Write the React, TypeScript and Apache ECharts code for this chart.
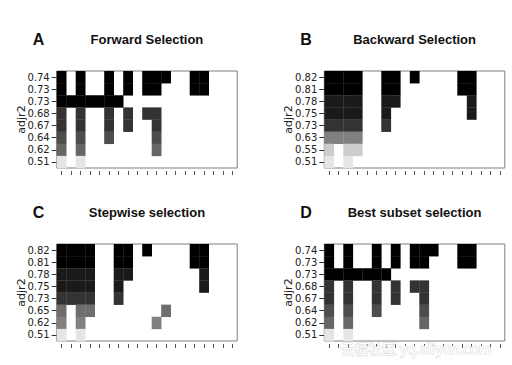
import React, { useEffect, useRef } from "react";
import * as echarts from "echarts";

// 19 model terms (intercept + 18 predictors); names are not shown in the plot
const xCategories = [
  "(Intercept)", "x1", "x2", "x3", "x4", "x5", "x6", "x7", "x8", "x9",
  "x10", "x11", "x12", "x13", "x14", "x15", "x16", "x17", "x18",
];

// Forward selection
const forwardLabels = ["0.74", "0.73", "0.73", "0.68", "0.67", "0.64", "0.62", "0.51"];
const forwardRows = [
  "1010010101110011000",
  "1010010101100011000",
  "1111111000000000000",
  "1010010101100000000",
  "1010010100100000000",
  "1010010000100000000",
  "1010000000100000000",
  "1010000000000000000",
];
const forwardShades = ["#000000", "#000000", "#000000", "#333333", "#333333", "#4d4d4d", "#666666", "#e5e5e5"];

// Backward selection
const backwardLabels = ["0.82", "0.81", "0.78", "0.75", "0.73", "0.63", "0.55", "0.51"];
const backwardRows = [
  "1111001101000011000",
  "1111001100000011000",
  "1111001100000001000",
  "1111001000000001000",
  "1111001000000000000",
  "1111000000000000000",
  "1011000000000000000",
  "1010000000000000000",
];
const backwardShades = ["#000000", "#000000", "#1a1a1a", "#1a1a1a", "#333333", "#808080", "#cccccc", "#e5e5e5"];

// Stepwise selection
const stepwiseLabels = ["0.82", "0.81", "0.78", "0.75", "0.73", "0.65", "0.62", "0.51"];
const stepwiseRows = [
  "1111001101000011000",
  "1111001100000011000",
  "1111001100000001000",
  "1111001000000001000",
  "1111001000000000000",
  "1011000000010000000",
  "1010000000100000000",
  "1010000000000000000",
];
const stepwiseShades = ["#000000", "#000000", "#1a1a1a", "#1a1a1a", "#333333", "#6e6e6e", "#808080", "#e5e5e5"];

// Best subset selection
const bestLabels = ["0.74", "0.73", "0.73", "0.68", "0.67", "0.64", "0.62", "0.51"];
const bestRows = [
  "1010010101110011000",
  "1010010101100011000",
  "1111111000000000000",
  "1010010101100000000",
  "1010010100100000000",
  "1010010000100000000",
  "1010000000100000000",
  "1010000000000000000",
];
const bestShades = ["#000000", "#000000", "#000000", "#333333", "#333333", "#4d4d4d", "#666666", "#e5e5e5"];

const panelLetters = ["A", "B", "C", "D"];
const panelTitles = ["Forward Selection", "Backward Selection", "Stepwise selection", "Best subset selection"];

const GRID_W = 180.5;
const GRID_H = 97;
const panels = [
  { labels: forwardLabels, rows: forwardRows, shades: forwardShades, left: 56.7, top: 71 },
  { labels: backwardLabels, rows: backwardRows, shades: backwardShades, left: 324.3, top: 71 },
  { labels: stepwiseLabels, rows: stepwiseRows, shades: stepwiseShades, left: 56.7, top: 244 },
  { labels: bestLabels, rows: bestRows, shades: bestShades, left: 324.3, top: 244 },
];

export default function App() {
  const ref = useRef<HTMLDivElement>(null);

  useEffect(() => {
    if (!ref.current) return;
    const chart = echarts.init(ref.current, undefined, { renderer: "svg" });

    const titleFont = 'bold 13px "Liberation Sans", Arial, sans-serif';
    const letterFont = 'bold 16px "Liberation Sans", Arial, sans-serif';

    const graphics: any[] = [];
    panels.forEach((p, i) => {
      const cx = p.left + GRID_W / 2;
      const ty = p.top - 32;
      graphics.push({
        type: "text",
        x: cx,
        y: ty,
        style: {
          text: panelTitles[i],
          font: titleFont,
          fill: "#111111",
          textAlign: "center",
          textVerticalAlign: "middle",
        },
      });
      graphics.push({
        type: "text",
        x: p.left - 24,
        y: ty,
        style: {
          text: panelLetters[i],
          font: letterFont,
          fill: "#111111",
          textAlign: "left",
          textVerticalAlign: "middle",
        },
      });
    });
    graphics.push({
      type: "text",
      x: 416,
      y: 348,
      z: 100,
      style: {
        text: "云栖社区 yq.aliyun.com",
        font: '14px "Noto Sans CJK SC", "Liberation Sans", sans-serif',
        fill: "#ffffff",
        stroke: "#d9d9d9",
        lineWidth: 1,
        textAlign: "center",
        textVerticalAlign: "middle",
      },
    });

    const option: any = {
      animation: false,
      backgroundColor: "#ffffff",
      grid: panels.map((p) => ({
        left: p.left,
        top: p.top,
        width: GRID_W,
        height: GRID_H,
        show: true,
        borderColor: "#7f7f7f",
        borderWidth: 1,
        backgroundColor: "#ffffff",
        containLabel: false,
      })),
      xAxis: panels.map((p, i) => ({
        type: "category",
        gridIndex: i,
        data: xCategories,
        position: "bottom",
        offset: 3,
        axisLine: { show: false },
        axisTick: { show: true, interval: 0, alignWithLabel: true, length: 4, lineStyle: { color: "#555555", width: 1 } },
        axisLabel: { show: false, interval: 0 },
        splitLine: { show: false },
      })),
      yAxis: panels.map((p, i) => ({
        type: "category",
        gridIndex: i,
        data: p.labels,
        inverse: true,
        axisLine: { show: false },
        axisTick: { show: true, interval: 0, alignWithLabel: true, length: 5, lineStyle: { color: "#333333", width: 1 } },
        axisLabel: { interval: 0, fontFamily: "DejaVu Sans", fontSize: 10, color: "#222222", margin: 7 },
        splitLine: { show: false },
        name: "adjr2",
        nameLocation: "middle",
        nameRotate: 90,
        nameGap: 30,
        nameMoveOverlap: false,
        nameTextStyle: { fontFamily: "DejaVu Sans", fontSize: 11, color: "#222222" },
      })),
      series: panels.map((p, i) => {
        const data: any[] = [];
        p.rows.forEach((row, r) => {
          row.split("").forEach((ch, c) => {
            if (ch === "1") data.push([c, r]);
          });
        });
        const shades = p.shades;
        return {
          type: "custom",
          xAxisIndex: i,
          yAxisIndex: i,
          data,
          encode: { x: 0, y: 1 },
          silent: true,
          renderItem: (params: any, api: any) => {
            const cx = api.value(0);
            const cy = api.value(1);
            const pt = api.coord([cx, cy]);
            const sz = api.size([1, 1]);
            return {
              type: "rect",
              shape: { x: pt[0] - sz[0] / 2, y: pt[1] - sz[1] / 2, width: sz[0] + 0.3, height: sz[1] + 0.3 },
              style: { fill: shades[cy] },
            };
          },
        };
      }),
      graphic: graphics,
    };

    chart.setOption(option);
    return () => chart.dispose();
  }, []);

  return (
    <div
      ref={ref}
      style={{ position: "fixed", left: 0, top: 0, width: 512, height: 365, background: "#fff" }}
    />
  );
}
